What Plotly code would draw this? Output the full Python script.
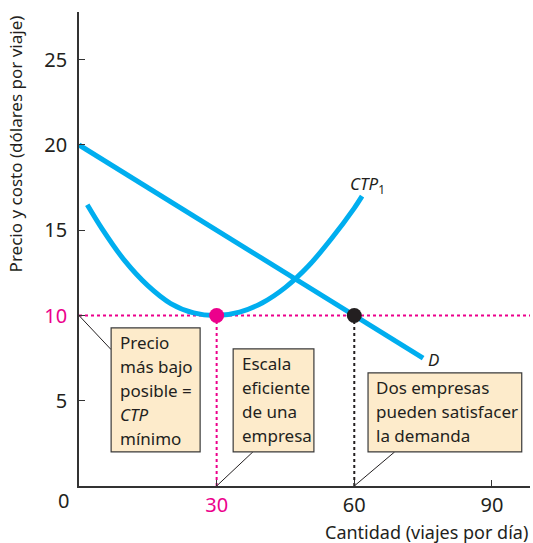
import plotly.graph_objects as go

# curva de demanda D
demanda_q = [0, 75]
demanda_p = [20, 7.5]

# curva de costo total promedio CTP1
ctp_q = [1.8, 5, 10, 15, 20, 25, 30, 35, 40, 45, 50, 55, 60, 61.7]
ctp_p = [16.5, 15.1, 13.2, 11.75, 10.7, 10.15, 10.0, 10.2, 10.75, 11.65, 12.9, 14.5, 16.3, 17.0]

# puntos destacados
punto_min = (30, 10)
punto_dem = (60, 10)

y_ticks = [5, 10, 15, 20, 25]
x_ticks = [30, 60, 90]

cyan = '#00AEEF'
rosa = '#EC008C'
tinta = '#231F20'
caja = '#FDEBCB'
fuente = 'Noto Sans'

fig = go.Figure()

# lineas punteadas guia
fig.add_shape(type='line', x0=0, x1=98.3, y0=10, y1=10,
              line=dict(color=rosa, width=2, dash='dot'), layer='below')
fig.add_shape(type='line', x0=30, x1=30, y0=0, y1=10,
              line=dict(color=rosa, width=2, dash='dot'), layer='below')
fig.add_shape(type='line', x0=60, x1=60, y0=0, y1=10,
              line=dict(color=tinta, width=2, dash='dot'), layer='below')

fig.add_trace(go.Scatter(x=demanda_q, y=demanda_p, mode='lines',
                         line=dict(color=cyan, width=5), hoverinfo='skip'))
fig.add_trace(go.Scatter(x=ctp_q, y=ctp_p, mode='lines',
                         line=dict(color=cyan, width=5, shape='spline', smoothing=0.8),
                         hoverinfo='skip'))
fig.add_trace(go.Scatter(x=[punto_min[0]], y=[punto_min[1]], mode='markers',
                         marker=dict(color=rosa, size=15), hoverinfo='skip'))
fig.add_trace(go.Scatter(x=[punto_dem[0]], y=[punto_dem[1]], mode='markers',
                         marker=dict(color=tinta, size=15), hoverinfo='skip'))

# cajas de texto con sus lineas de referencia
cajas = [
    dict(x0=7.0, x1=26.4, y0=2.0, y1=9.27,
         lineas=['Precio', 'más bajo', 'posible =', '<i>CTP</i>', 'mínimo'],
         guia=(0, 10, 7.0, 8.0)),
    dict(x0=33.6, x1=51.2, y0=2.0, y1=8.04,
         lineas=['Escala', 'eficiente', 'de una', 'empresa'],
         guia=(30, 0, 37.9, 2.0)),
    dict(x0=63.0, x1=96.5, y0=2.0, y1=6.63,
         lineas=['Dos empresas', 'pueden satisfacer', 'la demanda'],
         guia=(60, 0, 68.8, 2.0)),
]
paso = 24 / 17.05  # espacio entre renglones en unidades del eje y
for c in cajas:
    gx0, gy0, gx1, gy1 = c['guia']
    fig.add_shape(type='line', x0=gx0, y0=gy0, x1=gx1, y1=gy1,
                  line=dict(color=tinta, width=1))
    fig.add_shape(type='rect', x0=c['x0'], x1=c['x1'], y0=c['y0'], y1=c['y1'],
                  fillcolor=caja, line=dict(color='#3a3a3a', width=1.2))
    for i, t in enumerate(c['lineas']):
        fig.add_annotation(x=c['x0'] + 1.4, y=c['y1'] - 0.85 - i * paso, text=t,
                           showarrow=False, xanchor='left', yanchor='middle',
                           font=dict(family=fuente, size=17, color=tinta))

# etiquetas de las curvas
fig.add_annotation(x=58.6, y=17.7, text='<i>CTP</i><sub>1</sub>', showarrow=False,
                   xanchor='left', yanchor='middle',
                   font=dict(family=fuente, size=17, color=tinta))
fig.add_annotation(x=75.6, y=7.4, text='<i>D</i>', showarrow=False,
                   xanchor='left', yanchor='middle',
                   font=dict(family=fuente, size=17, color=tinta))

# origen
fig.add_annotation(xref='paper', yref='paper', x=-0.035, y=-0.031, text='0',
                   showarrow=False, xanchor='center', yanchor='middle',
                   font=dict(family=fuente, size=20, color=tinta))

# titulos de ejes
fig.add_annotation(xref='paper', yref='paper', x=-0.142, y=0.998,
                   text='Precio y costo (dólares por viaje)', textangle=-90,
                   showarrow=False, xanchor='center', yanchor='top',
                   font=dict(family=fuente, size=17, color=tinta))
fig.add_annotation(xref='paper', yref='paper', x=1.0, y=-0.097,
                   text='Cantidad (viajes por día)', showarrow=False,
                   xanchor='right', yanchor='middle',
                   font=dict(family=fuente, size=18, color=tinta))

fig.update_xaxes(range=[0, 98.3], showgrid=False, zeroline=False,
                 showline=True, linecolor='#333333', linewidth=1.5,
                 ticks='inside', ticklen=6, tickcolor='#333333',
                 tickvals=x_ticks,
                 ticktext=[f"<span style='color:{rosa}'>{v}</span>" if v == 30 else str(v)
                           for v in x_ticks],
                 tickfont=dict(family=fuente, size=20, color=tinta))
fig.update_yaxes(range=[0, 27.8], showgrid=False, zeroline=False,
                 showline=True, linecolor='#333333', linewidth=1.5,
                 ticks='inside', ticklen=6, tickcolor='#333333',
                 ticklabelstandoff=6,
                 tickvals=y_ticks,
                 ticktext=[f"<span style='color:{rosa}'>{v}</span>" if v == 10 else str(v)
                           for v in y_ticks],
                 tickfont=dict(family=fuente, size=20, color=tinta))

fig.update_layout(width=533, height=543, showlegend=False,
                  margin=dict(l=79, r=3, t=12, b=57),
                  plot_bgcolor='white', paper_bgcolor='white')

fig.write_html("out.html", config={'displayModeBar': False},
               post_script="document.body.style.margin='0px';")
